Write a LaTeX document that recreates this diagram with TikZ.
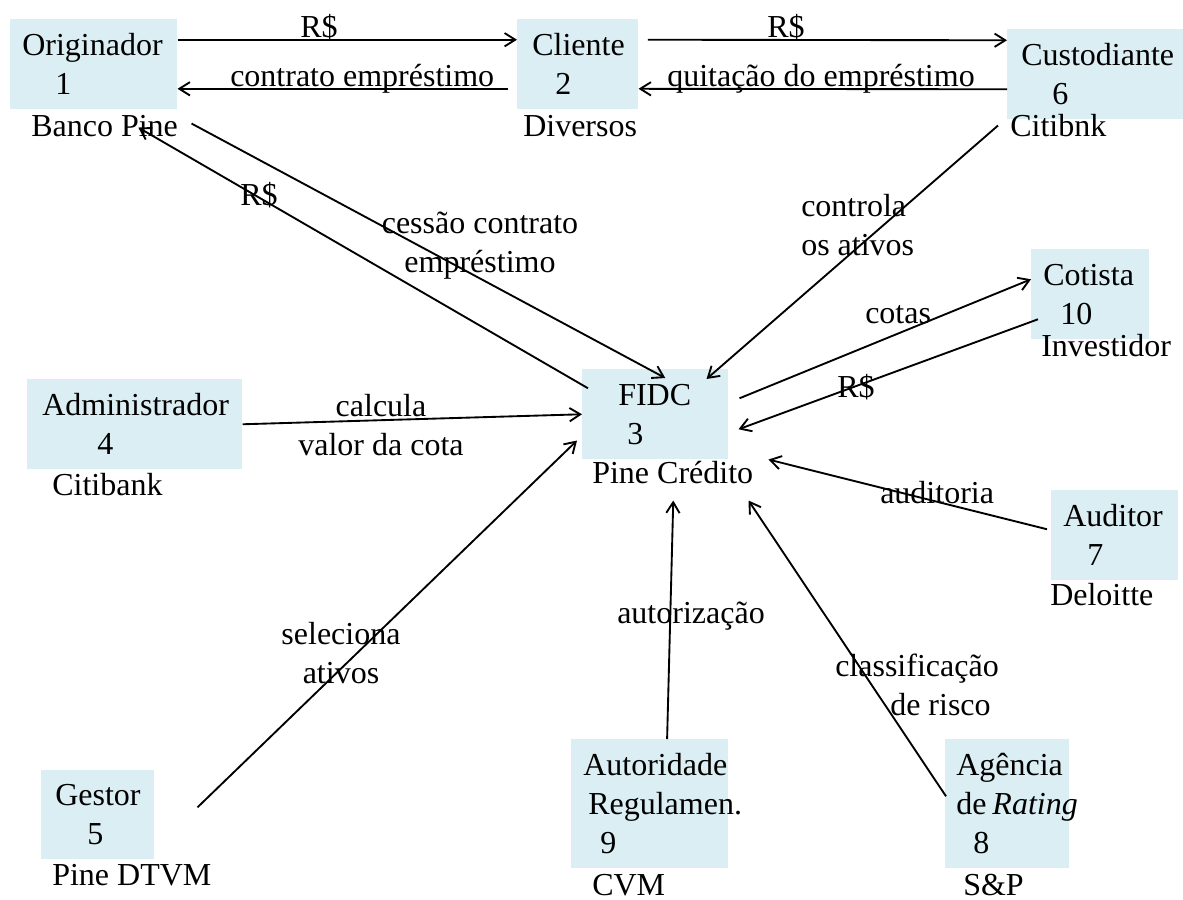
\documentclass[tikz,border=0pt]{standalone}
\usepackage{fontspec}
\setmainfont{Liberation Serif}
\usetikzlibrary{arrows.meta}
\definecolor{boxblue}{RGB}{219,238,243}

\begin{document}
\begin{tikzpicture}[
    x=0.75pt, y=-0.75pt,
    every node/.style={font=\fontsize{24}{29.25}\selectfont, inner sep=0pt},
    box/.style={fill=boxblue, anchor=north west, minimum height=67.5pt},
    intext/.style={anchor=west, align=left},
    sub/.style={anchor=base west},
    lbl/.style={anchor=base west, align=left},
    flow/.style={-{Straight Barb[length=8pt,width=10pt]}, line width=1.4pt}
]
\useasboundingbox (0,0) rectangle (1183,900);
% agents
\node[box, minimum width=125.25pt] (orig) at (10,19) {};
\node[box, minimum width=90.75pt] (cli) at (517,19) {};
\node[box, minimum width=132pt] (cust) at (1007,29) {};
\node[box, minimum width=109.5pt] (fidc) at (582,369) {};
\node[box, minimum width=161.25pt] (adm) at (27,379) {};
\node[box, minimum width=88.5pt] (cot) at (1031,249) {};
\node[box, minimum width=95.25pt] (aud) at (1051,490) {};
\node[box, minimum width=84.75pt, minimum height=66.75pt] (ges) at (41,770) {};
\node[box, minimum width=117.75pt, minimum height=96.75pt] (aut) at (571,739) {};
\node[box, minimum width=93pt, minimum height=96.75pt] (agn) at (945,739) {};
% texts in the boxes
\node[intext] (origT) at ([xshift=9pt]orig.west) {Originador\\\hspace*{24.75pt}1};
\node[intext] (cliT) at ([xshift=11.25pt]cli.west) {Cliente\\\hspace*{17.25pt}2};
\node[intext] (custT) at ([xshift=10.5pt]cust.west) {Custodiante\\\hspace*{23.25pt}6};
\node[intext] (fidcT) at ([xshift=27pt]fidc.west) {FIDC\\\hspace*{6.75pt}3};
\node[intext] (admT) at ([xshift=11.25pt]adm.west) {Administrador\\\hspace*{41.25pt}4};
\node[intext] (cotT) at ([xshift=9pt]cot.west) {Cotista\\\hspace*{12.75pt}10};
\node[intext] (audT) at ([xshift=9pt]aud.west) {Auditor\\\hspace*{18pt}7};
\node[intext] (gesT) at ([xshift=10.5pt]ges.west) {Gestor\\\hspace*{24pt}5};
\node[intext] (autT) at ([xshift=9pt]aut.west) {Autoridade\\\hspace*{3.75pt}Regulamen.\\\hspace*{12.75pt}9};
\node[intext] (agnT) at ([xshift=8.25pt]agn.west) {Agência\\de\hspace{4.5pt}\textit{Rating}\\\hspace*{12.75pt}8};
% names below the boxes
\node[sub] (origN) at (31,136) {Banco Pine};
\node[sub] (cliN) at (523,136) {Diversos};
\node[sub] (custN) at (1010,136) {Citibnk};
\node[sub] (fidcN) at (592,483) {Pine Crédito};
\node[sub] (admN) at (52,495) {Citibank};
\node[sub] (cotN) at (1041,356) {Investidor};
\node[sub] (audN) at (1050,605) {Deloitte};
\node[sub] (gesN) at (52,885) {Pine DTVM};
\node[sub] (autN) at (592,895) {CVM};
\node[sub] (agnN) at (963,895) {S\&P};
% flows
\draw[flow] ([yshift=18.4pt]orig.east) -- ([yshift=18.4pt]cli.west);
\draw[flow] ([xshift=-7pt,yshift=-18.4pt]cli.west) -- ([yshift=-18.4pt]orig.east);
\draw[flow] ([xshift=7pt,yshift=18.4pt]cli.east) -- ([yshift=25.5pt]cust.west);
\draw[flow] ([yshift=-11.25pt]cust.west) -- ([yshift=-18.4pt]cli.east);
\draw[flow] ([xshift=10.5pt,yshift=-10.5pt]orig.south east) -- ([xshift=7.5pt,yshift=-6.75pt]fidc.north);
\draw[flow] ([xshift=4.5pt,yshift=19.5pt]fidc.west) -- ([xshift=33.4pt,yshift=-13.5pt]orig.south);
\draw[flow] ([xshift=-6.75pt,yshift=-4.5pt]cust.south west) -- ([xshift=-16.5pt,yshift=-7.5pt]fidc.north east);
\draw[flow] ([xshift=8.25pt,yshift=12pt]fidc.east) -- ([yshift=11.25pt]cot.west);
\draw[flow] ([xshift=5.25pt,yshift=-18.75pt]cot.west) -- ([xshift=7.5pt,yshift=-11.25pt]fidc.east);
\draw[flow] (adm.east) -- (fidc.west);
\draw[flow] ([xshift=32.25pt,yshift=5.6pt]ges.east) -- ([xshift=-3.75pt,yshift=14.25pt]fidc.south west);
\draw[flow] ([xshift=13pt]aut.north) -- ([xshift=13.5pt,yshift=-30.75pt]fidc.south);
\draw[flow] ([xshift=0.75pt,yshift=5.6pt]agn.west) -- ([xshift=15pt,yshift=-30.75pt]fidc.south east);
\draw[flow] ([xshift=-3pt,yshift=4.5pt]aud.west) -- ([xshift=30pt]fidc.south east);
% flow labels
\node[lbl] (lblPagA) at (300,37) {R\$};
\node[lbl] (lblContrato) at (230,86) {contrato empréstimo};
\node[lbl] (lblPagB) at (767,37) {R\$};
\node[lbl] (lblQuitacao) at (667,86) {quitação do empréstimo};
\node[lbl] (lblPagC) at (240,205) {R\$};
\node[lbl, anchor=base, align=center] (lblCessao) at (480,272) {cessão contrato\\empréstimo};
\node[lbl] (lblControla) at (801,255) {controla\\os ativos};
\node[lbl] (lblCotas) at (865,323) {cotas};
\node[lbl] (lblPagD) at (837,397) {R\$};
\node[lbl, anchor=base, align=center] (lblCalcula) at (381,455) {calcula\\valor da cota};
\node[lbl] (lblAuditoria) at (880,503) {auditoria};
\node[lbl, anchor=base, align=center] (lblSeleciona) at (341,683) {seleciona\\ativos};
\node[lbl] (lblAutorizacao) at (617,623) {autorização};
\node[lbl] (lblRisco) at (835,715) {classificação\\\hspace*{41.25pt}de risco};
\end{tikzpicture}
\end{document}
